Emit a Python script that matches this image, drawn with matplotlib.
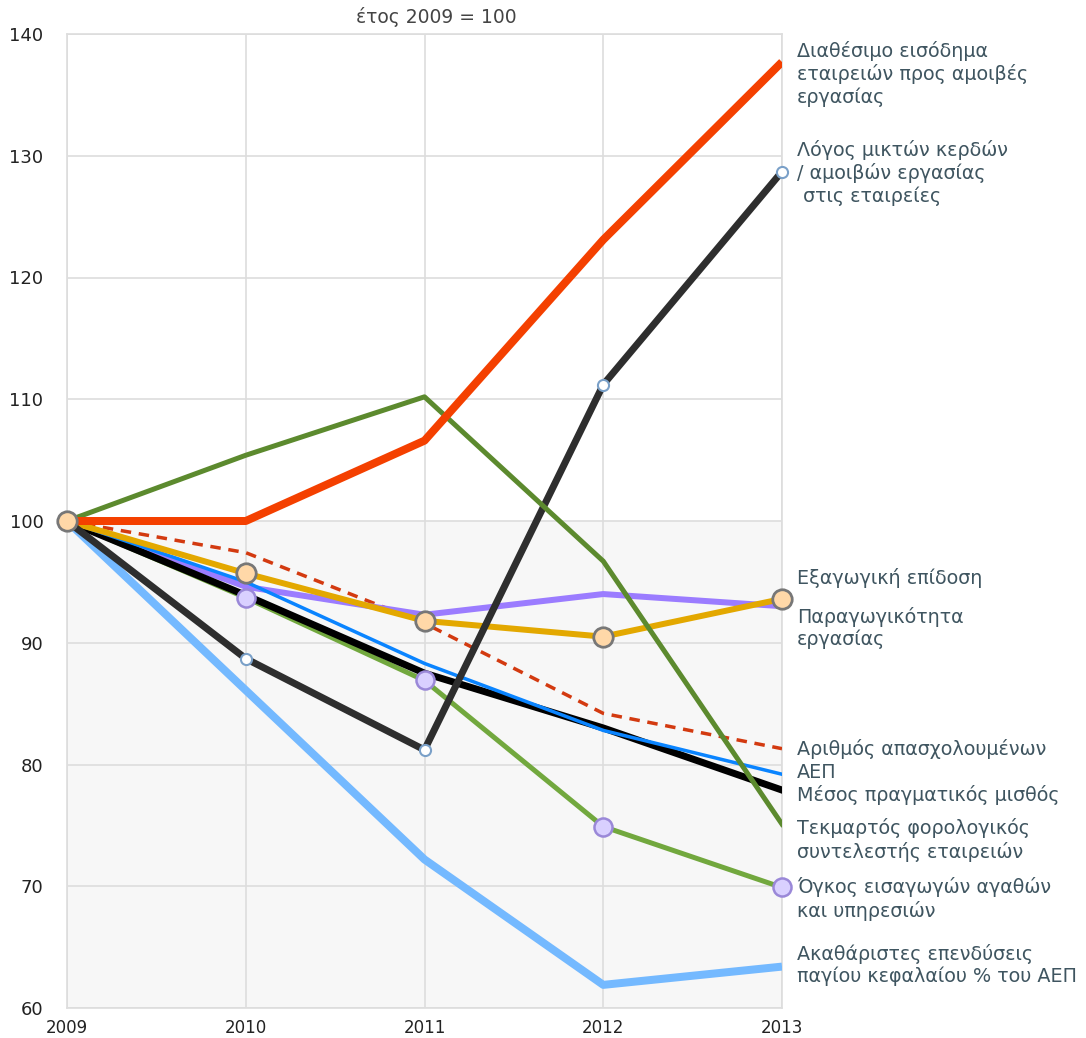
import matplotlib
matplotlib.use("Agg")
import matplotlib.pyplot as plt

plt.rcParams['font.family'] = ['DejaVu Sans']

years = [2009, 2010, 2011, 2012, 2013]

disposable_income = [100, 100.0, 106.6, 123.1, 137.7]
profit_ratio = [100, 88.7, 81.2, 111.2, 128.7]
tax_rate = [100, 105.4, 110.2, 96.7, 75.1]
export_perf = [100, 94.6, 92.3, 94.0, 93.0]
productivity = [100, 95.7, 91.8, 90.5, 93.6]
employment = [100, 97.4, 91.6, 84.2, 81.3]
gdp = [100, 95.0, 88.3, 82.8, 79.2]
real_wage = [100, 93.9, 87.5, 83.0, 77.9]
imports = [100, 93.7, 86.9, 74.9, 69.9]
investment = [100, 86.1, 72.2, 61.9, 63.4]

labels = {
    'disposable_income': "Διαθέσιμο εισόδημα\nεταιρειών προς αμοιβές\nεργασίας",
    'profit_ratio': "Λόγος μικτών κερδών\n/ αμοιβών εργασίας\n στις εταιρείες",
    'export_perf': "Εξαγωγική επίδοση",
    'productivity': "Παραγωγικότητα\nεργασίας",
    'employment': "Αριθμός απασχολουμένων",
    'gdp': "ΑΕΠ",
    'real_wage': "Μέσος πραγματικός μισθός",
    'tax_rate': "Τεκμαρτός φορολογικός\nσυντελεστής εταιρειών",
    'imports': "Όγκος εισαγωγών αγαθών\nκαι υπηρεσιών",
    'investment': "Ακαθάριστες επενδύσεις\nπαγίου κεφαλαίου % του ΑΕΠ",
}
label_y = {
    'disposable_income': 74, 'profit_ratio': 173, 'export_perf': 578,
    'productivity': 628, 'employment': 749, 'gdp': 772, 'real_wage': 795,
    'tax_rate': 840, 'imports': 899, 'investment': 965,
}

W, H = 1086, 1038
fig = plt.figure(figsize=(W/100, H/100), dpi=100)
ax = fig.add_axes([67/W, 1-1008/H, (782-67)/W, (1008-34)/H])

ax.set_xlim(2009, 2013)
ax.set_ylim(60, 140)
ax.axhspan(60, 100, color='#f7f7f7', zorder=0)
ax.set_yticks(range(60, 141, 10))
ax.set_xticks(years)
ax.grid(True, color='#dddddd', linewidth=1.2, zorder=1)
for s in ax.spines.values():
    s.set_color('#dddddd')
    s.set_linewidth(1.2)
ax.tick_params(length=0, labelsize=12, colors='#222222')
ax.tick_params(axis='y', pad=17, labelsize=13)
ax.tick_params(axis='x', pad=8)

lw = 0.72
ax.plot(years, investment, color='#74b9ff', lw=8*lw, zorder=3, solid_capstyle='butt')
ax.plot(years, employment, color='#d33a10', lw=3.5*lw, ls=(0, (3, 2.2)), zorder=3)
ax.plot(years, imports, color='#72a83e', lw=5*lw, zorder=3)
ax.plot(years, export_perf, color='#9b7cff', lw=6*lw, zorder=3)
ax.plot(years, real_wage, color='#000000', lw=7*lw, zorder=3)
ax.plot(years, gdp, color='#0a84ff', lw=3.5*lw, zorder=3)
ax.plot(years, productivity, color='#e3a800', lw=6*lw, zorder=3)
ax.plot(years, profit_ratio, color='#2e2e2e', lw=7*lw, zorder=4)
ax.plot(years, tax_rate, color='#5c8a2e', lw=5*lw, zorder=4)
ax.plot(years, disposable_income, color='#f44000', lw=8*lw, zorder=5, solid_capstyle='butt')

# markers
ax.plot(years[1:], profit_ratio[1:], ls='none', marker='o', ms=8, mfc='white',
        mec='#7aa0c8', mew=1.5, zorder=6, clip_on=False)
ax.plot(years[1:], imports[1:], ls='none', marker='o', ms=13, mfc='#d9d0ff',
        mec='#9a88d8', mew=1.8, zorder=6, clip_on=False)
ax.plot(years, productivity, ls='none', marker='o', ms=14, mfc='#ffd8a8',
        mec='#777777', mew=2, zorder=7, clip_on=False)

for key, txt in labels.items():
    y = label_y[key]
    fig.text(797/W, 1-y/H, txt, ha='left', va='center', fontsize=13.8,
             color='#3f5560', linespacing=1.22)

fig.text(436/W, 1-17/H, "έτος 2009 = 100", ha='center', va='center',
         fontsize=13.5, color='#444444')

fig.savefig('out.png', dpi=100)
